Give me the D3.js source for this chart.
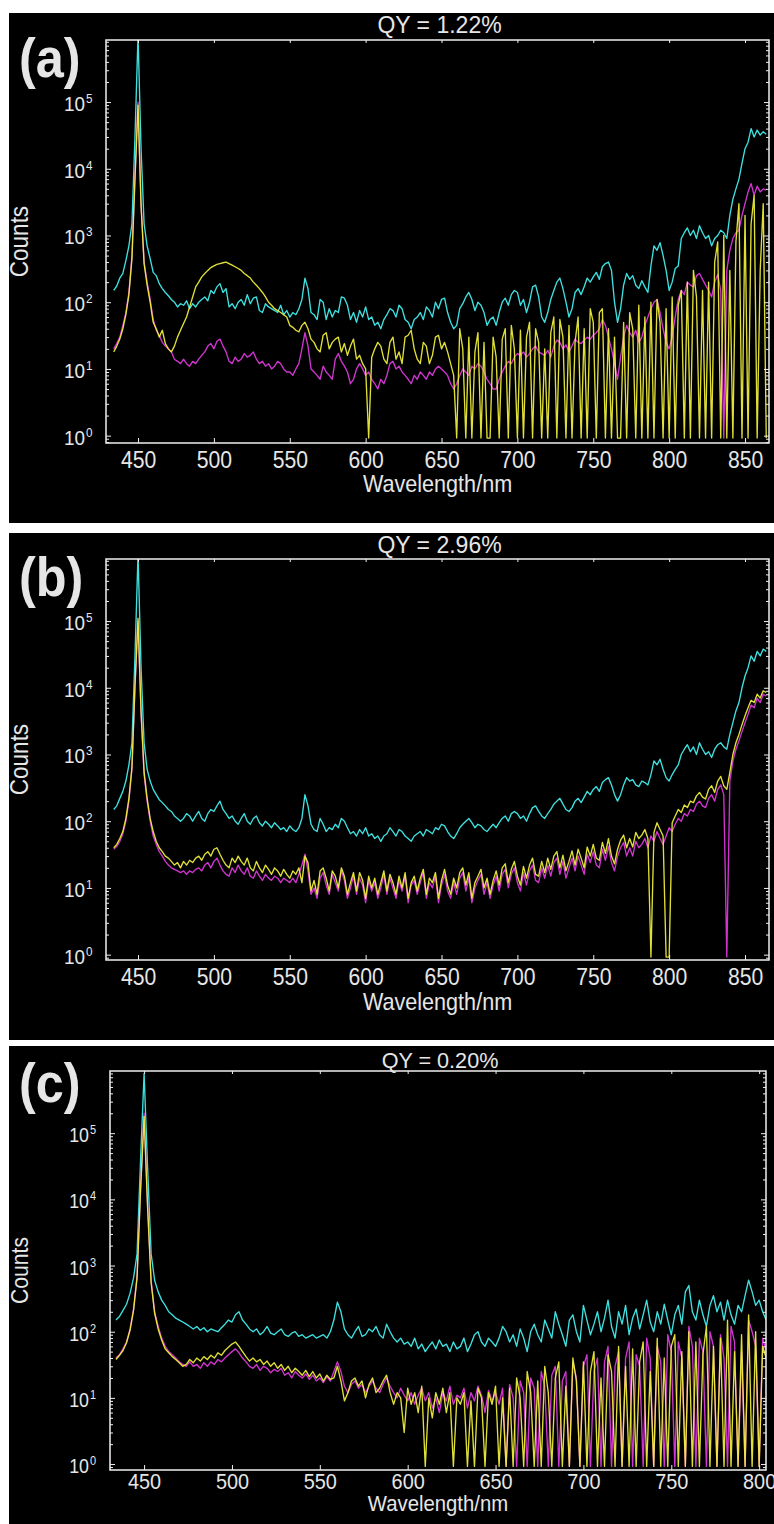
<!DOCTYPE html>
<html>
<head>
<meta charset="utf-8">
<script src="https://cdn.jsdelivr.net/npm/d3@7"></script>
<style>
  body { margin: 0; background: #fff; }
  svg { display: block; }
  text { font-family: "Liberation Sans", Arial, sans-serif; fill: #e6e6e6; }
</style>
</head>
<body>
<script>
// ---- data (counts, 2 nm sampling from 434 nm) ----
const wavelengthStart = 434;
const wavelengthStep = 2;

const titles = ["QY = 1.22%", "QY = 2.96%", "QY = 0.20%"];
const panelNames = ["(a)", "(b)", "(c)"];
const xTicksAB = [450, 500, 550, 600, 650, 700, 750, 800, 850];
const xTicksC = [450, 500, 550, 600, 650, 700, 750, 800];
const yExponents = [0, 1, 2, 3, 4, 5];

// panel (a)
const cyanA = [
  150, 175, 230, 270, 420, 700, 1500, 30000, 1000000, 20000,
  1500, 700, 450, 280, 250, 190, 160, 140, 125, 110,
  100, 85, 95, 90, 105, 80, 95, 85, 100, 110,
  120, 105, 150, 135, 170, 190, 140, 160, 85, 95,
  80, 100, 110, 90, 130, 95, 115, 120, 75, 70,
  95, 85, 80, 75, 70, 90, 65, 75, 60, 70,
  65, 80, 110, 230, 160, 70, 65, 55, 110, 100,
  55, 80, 60, 75, 70, 120, 115, 90, 55, 70,
  50, 75, 60, 85, 55, 60, 45, 50, 40, 55,
  65, 80, 75, 60, 90, 80, 55, 50, 40, 55,
  60, 70, 55, 85, 75, 60, 100, 80, 110, 115,
  70, 50, 40, 45, 80, 95, 120, 140, 110, 75,
  100, 90, 70, 45, 55, 60, 45, 70, 100, 115,
  90, 130, 150, 140, 90, 110, 70, 100, 170, 180,
  120, 60, 50, 70, 110, 150, 200, 230, 160, 100,
  60, 80, 140, 160, 130, 170, 230, 200, 240, 280,
  220, 340, 380, 400, 300, 100, 50, 80, 180, 270,
  220, 250, 180, 160, 210, 170, 140, 350, 700, 600,
  780, 500, 300, 150, 200, 320, 350, 900, 1100, 1300,
  1000, 1200, 900, 1400, 1100, 900, 1000, 700, 900, 1000,
  1200, 1100, 900, 2000, 3500, 5000, 7000, 12000, 20000, 25000,
  40000, 30000, 38000, 32000, 36000, 33000
];
const magentaA = [
  20, 24, 30, 45, 70, 140, 500, 8000, 100000, 3000,
  400, 200, 110, 55, 38, 32, 25, 22, 20, 18,
  14, 13, 12, 14, 12, 11, 13, 12, 14, 16,
  18, 22, 24, 20, 26, 28, 22, 18, 13, 12,
  15, 13, 14, 17, 15, 16, 18, 14, 12, 13,
  11, 12, 10, 11, 13, 12, 10, 9, 9, 8,
  10, 12, 20, 35, 22, 10, 9, 8, 7, 11,
  9, 8, 7, 14, 17, 13, 11, 9, 6, 7,
  10, 12, 10, 8, 9, 7, 6, 5, 7, 6,
  8, 12, 13, 10, 11, 9, 8, 7, 6, 8,
  7, 9, 8, 7, 9, 8, 10, 11, 10, 9,
  8, 6, 5, 6, 8, 10, 9, 8, 11, 10,
  12, 11, 9, 7, 6, 5, 5, 7, 9, 11,
  13, 12, 15, 17, 16, 18, 15, 17, 20, 22,
  18, 17, 16, 19, 15, 22, 27, 25, 20, 23,
  18, 22, 28, 25, 24, 27, 30, 28, 32, 35,
  40, 55, 45, 30, 20, 12, 7, 15, 30, 45,
  35, 30, 38, 25, 30, 45, 60, 80, 100, 110,
  70, 40, 25, 20, 30, 60, 110, 150, 130, 200,
  180, 170, 250, 270, 220, 180, 150, 120, 200, 260,
  150, 0, 300, 600, 900, 1100, 1200, 2000, 3000, 4500,
  6000, 4000, 5500, 4500, 5000, 4800
];
const yellowA = [
  18, 22, 28, 40, 65, 130, 450, 7000, 90000, 2800,
  380, 180, 100, 50, 40, 30, 38, 24, 20, 18,
  22, 30, 38, 48, 60, 85, 120, 170, 200, 240,
  270, 300, 330, 350, 370, 380, 390, 400, 380, 360,
  340, 320, 300, 270, 250, 230, 200, 180, 160, 140,
  120, 100, 90, 80, 75, 70, 65, 60, 45, 42,
  38, 36, 45, 50, 40, 28, 25, 20, 18, 32,
  35, 20, 25, 28, 30, 18, 24, 16, 22, 28,
  14, 16, 12, 10, 0, 15, 20, 25, 22, 14,
  12, 25, 30, 14, 18, 12, 30, 32, 38, 20,
  14, 12, 25, 22, 12, 16, 30, 32, 20, 25,
  18, 12, 8, 0, 40, 20, 0, 30, 0, 18,
  35, 0, 25, 0, 0, 30, 15, 0, 28, 40,
  0, 45, 20, 0, 38, 0, 30, 50, 0, 40,
  25, 0, 20, 0, 35, 60, 0, 55, 30, 0,
  45, 0, 25, 60, 0, 40, 0, 80, 50, 0,
  70, 80, 0, 40, 0, 30, 0, 0, 50, 0,
  70, 40, 0, 90, 0, 60, 0, 100, 0, 110,
  50, 0, 80, 0, 120, 0, 90, 150, 0, 200,
  0, 300, 120, 0, 150, 0, 200, 0, 400, 800,
  0, 1000, 0, 300, 0, 800, 3000, 0, 2000, 0,
  1500, 4000, 0, 300, 3000, 0
];

// panel (b)
const cyanB = [
  150, 170, 220, 280, 400, 700, 1500, 30000, 1000000, 20000,
  1500, 600, 400, 300, 250, 210, 190, 170, 150, 140,
  120, 110, 100, 110, 130, 120, 100, 120, 140, 110,
  100, 130, 150, 140, 170, 200, 150, 130, 110, 120,
  100, 90, 110, 130, 100, 90, 110, 120, 95, 85,
  100, 90, 80, 95, 85, 75, 80, 70, 85, 75,
  70, 80, 110, 250, 170, 90, 75, 70, 110, 90,
  70, 80, 75, 90, 80, 110, 100, 80, 65, 70,
  60, 75, 65, 80, 60, 65, 55, 60, 50, 60,
  65, 80, 70, 60, 75, 70, 60, 55, 50, 60,
  65, 70, 60, 75, 70, 65, 80, 75, 90, 85,
  70, 60, 55, 65, 80, 90, 100, 110, 95, 80,
  90, 85, 75, 70, 80, 90, 80, 95, 110, 120,
  100, 130, 140, 130, 110, 120, 100, 130, 160, 170,
  140, 120, 110, 130, 150, 180, 200, 220, 180, 150,
  140, 160, 200, 220, 190, 230, 280, 250, 300, 330,
  280, 380, 420, 450, 350, 250, 200, 250, 350, 450,
  400, 420, 350, 330, 400, 380, 350, 500, 800, 700,
  850, 600, 450, 400, 500, 600, 700, 1000, 1200, 1400,
  1100, 1300, 1000, 1500, 1200, 1000, 1100, 900, 1200, 1400,
  1500, 1300, 1200, 2000, 3000, 4500, 6000, 10000, 15000, 20000,
  30000, 25000, 35000, 30000, 38000, 35000
];
const magentaB = [
  38, 42, 50, 65, 100, 200, 600, 10000, 100000, 4000,
  500, 200, 100, 60, 45, 35, 30, 25, 22, 20,
  19, 18, 17, 18, 16, 18, 17, 19, 20, 18,
  22, 24, 20, 25, 28, 22, 18, 16, 15, 20,
  17, 22, 18, 16, 20, 15, 14, 18, 15, 13,
  16, 14, 13, 15, 14, 12, 14, 13, 12, 14,
  12, 16, 22, 32, 18, 8, 10, 7, 14, 17,
  11, 8, 16, 12, 9, 18, 13, 7, 10, 15,
  8, 14, 11, 6, 13, 9, 12, 7, 10, 16,
  8, 14, 10, 7, 13, 9, 15, 6, 11, 13,
  8, 12, 17, 7, 12, 10, 15, 6, 11, 16,
  9, 7, 12, 8, 14, 17, 9, 14, 6, 10,
  13, 16, 8, 12, 7, 11, 15, 9, 16, 19,
  10, 16, 20, 12, 9, 17, 11, 18, 22, 13,
  12, 20, 14, 22, 15, 24, 28, 16, 25, 14,
  20, 28, 18, 30, 22, 16, 32, 24, 35, 22,
  20, 38, 26, 42, 24, 18, 30, 40, 48, 30,
  40, 30, 50, 40, 45, 55, 40, 60, 50, 70,
  55, 45, 60, 80, 70, 90, 110, 100, 130, 120,
  150, 140, 180, 200, 170, 160, 220, 250, 200, 300,
  350, 250, 0, 400, 800, 1200, 1600, 2200, 3000, 4000,
  5500, 5000, 7000, 6000, 8000, 7500
];
const yellowB = [
  40, 45, 55, 70, 110, 220, 650, 11000, 110000, 4500,
  550, 220, 110, 70, 50, 40, 35, 30, 28, 25,
  22, 24, 20, 25, 22, 26, 24, 28, 30, 26,
  32, 35, 30, 38, 40, 32, 26, 22, 20, 28,
  24, 30, 25, 22, 28, 20, 18, 25, 20, 17,
  22, 19, 16, 20, 18, 15, 19, 16, 14, 18,
  16, 20, 12, 30, 24, 9, 13, 8, 18, 20,
  14, 9, 18, 15, 10, 20, 15, 8, 12, 17,
  9, 17, 13, 7, 15, 10, 14, 8, 12, 18,
  9, 16, 12, 8, 15, 10, 17, 7, 12, 15,
  9, 14, 19, 8, 14, 12, 17, 7, 13, 19,
  11, 8, 14, 10, 17, 20, 11, 17, 7, 12,
  15, 19, 10, 14, 8, 13, 18, 11, 20, 23,
  12, 19, 25, 15, 11, 21, 14, 22, 28, 16,
  15, 25, 17, 28, 19, 30, 35, 20, 31, 18,
  25, 36, 22, 38, 28, 20, 41, 30, 45, 28,
  26, 48, 33, 55, 30, 23, 38, 52, 62, 40,
  55, 41, 68, 55, 62, 75, 55, 0, 68, 95,
  75, 60, 0, 0, 95, 120, 150, 135, 175, 160,
  200, 190, 240, 270, 230, 215, 300, 340, 270, 400,
  470, 340, 300, 540, 1000, 1500, 2000, 2800, 3800, 5000,
  6500, 6000, 8000, 7000, 9000, 8500
];

// panel (c)
const cyanC = [
  150, 170, 210, 260, 380, 650, 1500, 40000, 800000, 30000,
  1500, 600, 400, 300, 250, 200, 180, 160, 150, 140,
  130, 120, 110, 120, 105, 115, 100, 110, 105, 100,
  115, 130, 150, 140, 180, 200, 150, 130, 110, 100,
  110, 90, 100, 120, 95, 90, 100, 110, 90, 85,
  95, 100, 85, 90, 80, 85, 90, 80, 85, 90,
  80, 100, 150, 280, 200, 110, 90, 80, 100, 120,
  85, 90, 110, 100, 120, 90, 80, 130, 100, 80,
  70, 80, 65, 70, 60, 80, 55, 65, 50, 60,
  70, 55, 75, 60, 65, 50, 70, 55, 60, 80,
  50, 65, 90, 100, 70, 60, 80, 70, 60, 80,
  120, 100, 70, 90, 60, 110, 80, 50, 100, 130,
  90, 70, 150, 110, 80, 200, 130, 90, 60, 150,
  180, 100, 70, 250, 150, 90, 130, 200, 100, 160,
  300, 120, 80, 200, 130, 250, 90, 160, 220, 110,
  180, 300, 140, 100, 200, 130, 260, 150, 90, 180,
  250, 130, 400, 500, 200, 150, 300, 180, 120, 250,
  350, 200, 280, 150, 300, 180, 130, 250, 200, 350,
  600, 400, 250, 300, 200, 150
];
const magentaC = [
  40, 45, 55, 70, 110, 220, 700, 15000, 200000, 8000,
  600, 200, 120, 80, 60, 50, 45, 40, 35, 32,
  30, 35, 30, 32, 28, 34, 30, 35, 32, 38,
  35, 40, 45, 50, 55, 48, 40, 35, 30, 28,
  32, 26, 30, 28, 24, 27, 25, 28, 22, 24,
  20, 25, 22, 20, 23, 19, 22, 18, 20, 17,
  21, 18, 25, 35, 25, 15, 12, 16, 18, 14,
  16, 12, 15, 18, 14, 12, 16, 20, 15, 12,
  10, 14, 11, 9, 12, 8, 11, 14, 9, 12,
  7, 10, 6, 12, 9, 15, 8, 11, 10, 14,
  7, 12, 9, 15, 11, 6, 13, 9, 12, 8,
  14, 0, 16, 10, 0, 18, 12, 0, 20, 14,
  0, 25, 15, 0, 22, 30, 0, 18, 25, 0,
  35, 20, 0, 30, 45, 0, 25, 40, 0, 35,
  60, 0, 30, 50, 0, 40, 70, 0, 45, 30,
  0, 80, 40, 0, 60, 35, 0, 90, 50, 0,
  70, 40, 0, 120, 60, 0, 80, 50, 0, 100,
  60, 0, 90, 40, 0, 120, 70, 0, 50, 0,
  150, 100, 60, 0, 80, 50
];
const yellowC = [
  38, 44, 52, 68, 105, 210, 650, 14000, 180000, 7500,
  550, 190, 110, 75, 55, 48, 42, 38, 34, 30,
  32, 38, 34, 40, 36, 42, 38, 44, 40, 48,
  44, 52, 58, 65, 70, 60, 50, 42, 36, 40,
  35, 38, 32, 36, 30, 34, 28, 32, 26, 30,
  24, 28, 25, 22, 26, 21, 25, 20, 23, 18,
  22, 19, 20, 30, 18, 9, 12, 18, 20, 15,
  18, 10, 16, 20, 12, 14, 18, 22, 12, 8,
  12, 10, 3, 14, 8, 12, 6, 15, 0, 10,
  5, 12, 8, 14, 6, 12, 0, 10, 8, 12,
  0, 9, 0, 14, 10, 0, 12, 8, 15, 0,
  10, 0, 14, 0, 20, 10, 0, 25, 12, 0,
  18, 0, 30, 12, 0, 20, 35, 0, 15, 0,
  40, 18, 0, 35, 0, 25, 50, 0, 20, 0,
  45, 25, 0, 60, 0, 30, 0, 55, 0, 35,
  70, 0, 25, 0, 80, 0, 40, 0, 60, 90,
  0, 50, 0, 100, 0, 70, 0, 45, 120, 0,
  60, 0, 80, 0, 150, 0, 50, 0, 90, 0,
  180, 0, 100, 0, 60, 40
];

// ---- layout ----
const seriesColors = ["#3fe0e0", "#e23ae2", "#f2f23c"];
const floorCount = 0.92;   // zero counts sit on this floor, as in the original plot
const squeeze = 0.9;       // the figure's lettering is a little narrow

const layouts = [
  { bg: [13, 523], left: 106, right: 769, top: 40, bottom: 443, xDomain: [428.9, 865.8], logDomain: [-0.11, 5.93],
    nameY: 77, titleY: 33, tickPad: 8, xTitleY: 492, font: 1 },
  { bg: [533, 1040], left: 106, right: 769, top: 559, bottom: 960, xDomain: [428.9, 865.8], logDomain: [-0.08, 5.93],
    nameY: 596, titleY: 553, tickPad: 8, xTitleY: 1010, font: 1 },
  { bg: [1046, 1524], left: 110, right: 766, top: 1071, bottom: 1470, xDomain: [430.6, 803.9], logDomain: [-0.09, 5.94],
    nameY: 1102, titleY: 1068, tickPad: 3, xTitleY: 1511, font: 0.94 }
];

const panels = [
  { series: [cyanA, magentaA, yellowA], xTicks: xTicksAB },
  { series: [cyanB, magentaB, yellowB], xTicks: xTicksAB },
  { series: [cyanC, magentaC, yellowC], xTicks: xTicksC }
];

const svg = d3.select("body")
  .append("svg")
  .attr("width", 774)
  .attr("height", 1524)
  .style("background-color", "#fff");

// narrow text placed at (x, y)
function addText(parent, x, y, str, size, anchor, extra, sx) {
  return parent.append("text")
    .attr("transform", `translate(${x},${y})` + (extra || "") + ` scale(${sx || squeeze},1)`)
    .attr("text-anchor", anchor || "start")
    .style("font-size", size + "px")
    .text(str);
}

panels.forEach((p, idx) => {
  const L = layouts[idx];
  const g = svg.append("g");

  g.append("rect")
    .attr("x", 9).attr("y", L.bg[0])
    .attr("width", 765).attr("height", L.bg[1] - L.bg[0])
    .attr("fill", "#000");

  const x = d3.scaleLinear().domain(L.xDomain).range([L.left, L.right]);
  const y = d3.scaleLog()
    .domain([Math.pow(10, L.logDomain[0]), Math.pow(10, L.logDomain[1])])
    .range([L.bottom, L.top]);

  g.append("clipPath").attr("id", "clip" + idx)
    .append("rect")
    .attr("x", L.left).attr("y", L.top)
    .attr("width", L.right - L.left).attr("height", L.bottom - L.top);

  const line = d3.line()
    .x((d, i) => x(wavelengthStart + i * wavelengthStep))
    .y(d => y(Math.max(d, floorCount)));

  const lines = g.append("g").attr("clip-path", "url(#clip" + idx + ")");
  p.series.forEach((values, k) => {
    lines.append("path")
      .datum(values)
      .attr("d", line)
      .attr("fill", "none")
      .attr("stroke", seriesColors[k])
      .attr("stroke-width", 1.35)
      .attr("stroke-linejoin", "round")
      .attr("opacity", k === 0 ? 1 : 0.92);
  });

  // ticks
  const majors = yExponents.map(e => Math.pow(10, e));
  const minors = [];
  for (let e = -1; e <= 5; e++) {
    for (let m = 2; m <= 9; m++) {
      const v = m * Math.pow(10, e);
      if (v > y.domain()[0] && v < y.domain()[1]) minors.push(v);
    }
  }

  const styleAxis = sel => {
    sel.select(".domain").remove();
    sel.selectAll("line").attr("stroke", "#f0f0f0").attr("stroke-width", 1);
  };

  g.append("g").attr("transform", `translate(0,${L.bottom})`)
    .call(d3.axisBottom(x).tickValues(p.xTicks).tickSizeInner(-5).tickSizeOuter(0).tickPadding(L.tickPad))
    .call(styleAxis)
    .call(s => s.selectAll("text")
      .style("font-size", (23.5 * L.font) + "px")
      .attr("fill", "#e6e6e6")
      .attr("transform", `scale(${squeeze},1)`));

  g.append("g").attr("transform", `translate(0,${L.top})`)
    .call(d3.axisTop(x).tickValues(p.xTicks).tickSize(-3).tickFormat(""))
    .call(styleAxis);

  [[d3.axisLeft, L.left], [d3.axisRight, L.right]].forEach(([axis, pos]) => {
    g.append("g").attr("transform", `translate(${pos},0)`)
      .call(axis(y).tickValues(majors).tickSize(-5).tickFormat(""))
      .call(styleAxis);
    g.append("g").attr("transform", `translate(${pos},0)`)
      .call(axis(y).tickValues(minors).tickSize(-3).tickFormat(""))
      .call(styleAxis);
  });

  g.append("rect")
    .attr("x", L.left).attr("y", L.top)
    .attr("width", L.right - L.left).attr("height", L.bottom - L.top)
    .attr("fill", "none").attr("stroke", "#f0f0f0").attr("stroke-width", 1.5);

  // log tick labels 10^n
  yExponents.forEach(e => {
    const yy = y(Math.pow(10, e));
    addText(g, L.left - 21, yy + 9, "10", 21 * L.font, "end");
    addText(g, L.left - 20, yy + 1, e, 13 * L.font);
  });

  const cx = (L.left + L.right) / 2;
  addText(g, cx + 2, L.titleY, titles[idx], 23 * L.font, "middle", "", 1);
  addText(g, cx, L.xTitleY, "Wavelength/nm", 24 * L.font, "middle");
  addText(g, 28, (L.top + L.bottom) / 2, "Counts", 25 * L.font, "middle", " rotate(-90)");
  addText(g, 19, L.nameY, panelNames[idx], 56, "start")
    .style("font-weight", "bold")
    .attr("fill", "#f4f4f4");
});
</script>
</body>
</html>
